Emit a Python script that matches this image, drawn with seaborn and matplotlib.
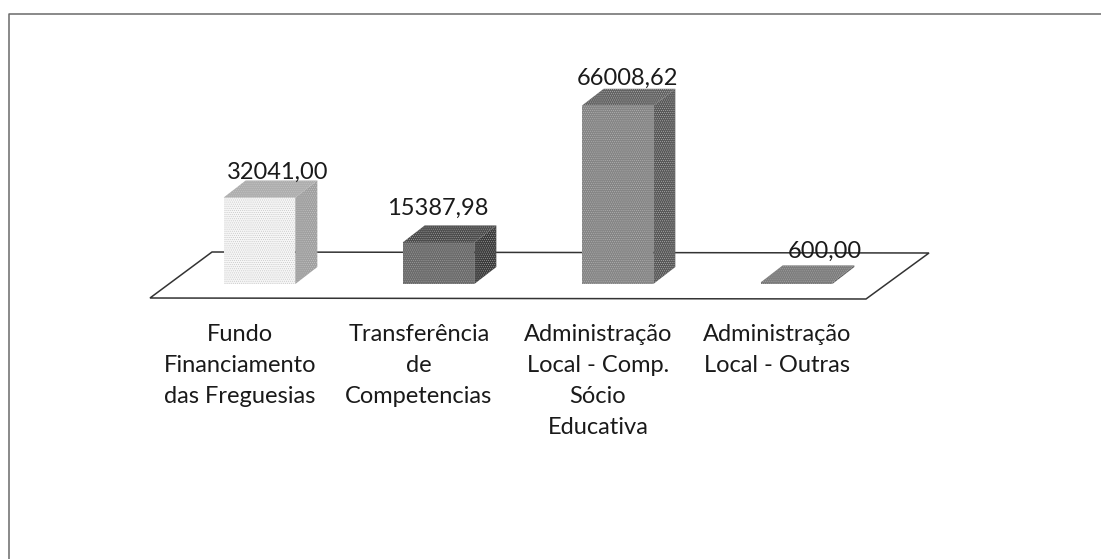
import matplotlib
matplotlib.use("Agg")
import matplotlib.pyplot as plt
import seaborn as sns
from matplotlib.patches import Polygon

# valores do grafico
categorias = ["Fundo\nFinanciamento\ndas Freguesias", "Transferência\nde\nCompetencias",
              "Administração\nLocal - Comp.\nSócio\nEducativa", "Administração\nLocal - Outras"]
valores = [32041.00, 15387.98, 66008.62, 600.00]
rotulos = ["32041,00", "15387,98", "66008,62", "600,00"]

cor_frente = ["#f6f6f6", "#6a6a6a", "#858585", "#787878"]
cor_lado = ["#a0a0a0", "#3c3c3c", "#585858", "#585858"]
cor_topo = ["#aeaeae", "#4c4c4c", "#626262", "#7c7c7c"]
# cor do granulado de cada barra
cor_grao = ["#c4c4c4", "#a0a0a0", "#b4b4b4", "#a8a8a8"]
# deslocamento dos rotulos em pixels (x, y acima do topo)
desloc = [(18, 25), (-1, 34), (10, 27), (28, 31)]

W, H = 1101, 559
BASE = 284        # linha de base das barras, px
PASSO = 179       # distancia entre categorias, px
X0 = 259.5        # centro da primeira barra, px
PX_VALOR = 0.0027 # px por unidade
DX, DY = 22, 17   # profundidade 3D, px

sns.set_theme(style="white")
plt.rcParams["font.family"] = ["Lato", "DejaVu Sans"]
plt.rcParams["hatch.linewidth"] = 0.4

fig = plt.figure(figsize=(W / 100, H / 100), dpi=100)

# fundo: moldura e plano do chao em pixels
bg = fig.add_axes([0, 0, 1, 1])
bg.set_xlim(0, W)
bg.set_ylim(H, 0)
bg.axis("off")
bg.plot([9, 9, W], [H, 14, 14], color="#6a6a6a", lw=1.1)
bg.add_patch(Polygon([(150, 298), (212, 252), (929, 253), (866, 299)], closed=True,
                     facecolor="white", edgecolor="#333333", lw=1.1))

ax = fig.add_axes([0, (H - BASE) / H, 1, BASE / H])
ax.patch.set_visible(False)
sns.barplot(x=categorias, y=valores, hue=categorias, palette=cor_frente, saturation=1,
            width=0.4, legend=False, dodge=False, ax=ax)
ax.set_xlim(-X0 / PASSO, (W - X0) / PASSO)
ax.set_ylim(0, BASE / PX_VALOR)
sns.despine(ax=ax, left=True, bottom=True)
ax.set_yticks([])
ax.set_xticks([i - 19.5 / PASSO for i in range(len(categorias))], categorias,
              fontsize=17, color="#1a1a1a", linespacing=1.6)
ax.tick_params(axis="x", length=0, pad=28.5)

dx, dy = DX / PASSO, DY / PX_VALOR
barras = sorted(ax.patches, key=lambda p: p.get_x())
for i, b in enumerate(barras):
    x0, x1, y1 = b.get_x(), b.get_x() + b.get_width(), b.get_height()
    b.set_hatch("........")
    b.set_edgecolor(cor_grao[i])
    b.set_linewidth(0)
    ax.add_patch(Polygon([(x1, 0), (x1 + dx, dy), (x1 + dx, y1 + dy), (x1, y1)], closed=True,
                         facecolor=cor_lado[i], edgecolor=cor_grao[i], hatch="........", lw=0))
    ax.add_patch(Polygon([(x0, y1), (x1, y1), (x1 + dx, y1 + dy), (x0 + dx, y1 + dy)], closed=True,
                         facecolor=cor_topo[i], edgecolor=cor_grao[i], hatch="........", lw=0))
    ax.annotate(rotulos[i], ((x0 + x1) / 2, y1), xytext=(desloc[i][0] * 0.72, desloc[i][1] * 0.72),
                textcoords="offset points", ha="center", va="center", fontsize=17,
                color="#1a1a1a", annotation_clip=False)

fig.savefig("out.png", dpi=100)
